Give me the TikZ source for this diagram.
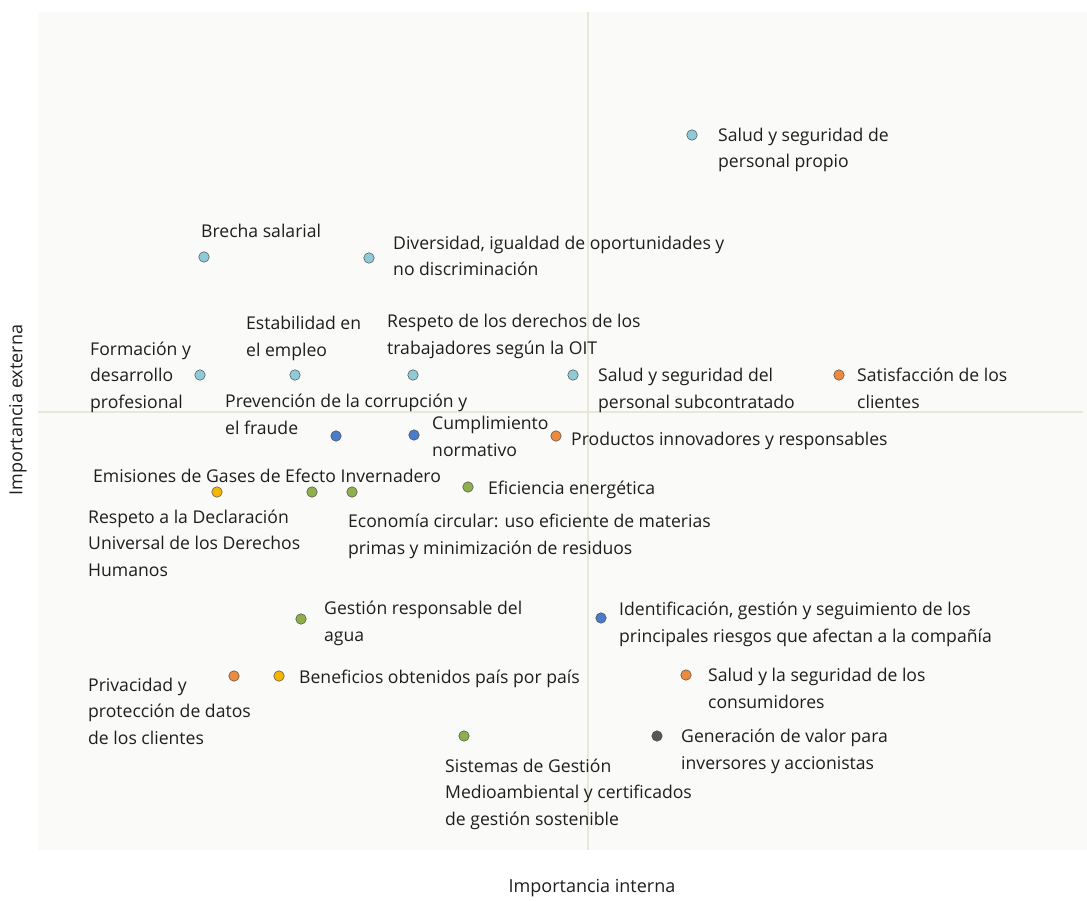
\documentclass[tikz,border=0pt]{standalone}
\usepackage{fontspec}
\setmainfont{Open Sans}
\definecolor{bgc}{HTML}{FAFAF8}
\definecolor{axc}{HTML}{EAE6D8}
\definecolor{lblue}{HTML}{8FCAD9}
\definecolor{dblue}{HTML}{4A7CC9}
\definecolor{orng}{HTML}{EE8A3E}
\definecolor{yllw}{HTML}{F4B400}
\definecolor{grn}{HTML}{8DB04C}
\definecolor{dgray}{HTML}{575757}
\definecolor{txt}{HTML}{1E1E1E}
\tikzset{
  dot/.style={circle,draw=black!70,line width=0.5pt,inner sep=0pt,minimum size=10.5pt,fill=#1},
  lbl/.style={anchor=base west,align=left,text=txt,inner sep=0pt,font=\fontsize{17.6}{26.2}\selectfont},
  axlbl/.style={text=txt,inner sep=0pt,font=\fontsize{18}{22}\selectfont},
  axline/.style={draw=axc,line width=2pt}
}
\begin{document}
\begin{tikzpicture}[x=1pt,y=-1pt]
\useasboundingbox (0,0) rectangle (1087,901);
\fill[bgc] (38,12) rectangle (1087,850);
\coordinate (vt) at (588,12);
\coordinate (vb) at (588,850);
\coordinate (hl) at (38,412);
\coordinate (hr) at (1083,412);
\draw[axline] (vt) -- (vb);
\draw[axline] (hl) -- (hr);
% dots
\node[dot=lblue] (d1) at (692,135) {};
\node[dot=lblue] (d2) at (204,257) {};
\node[dot=lblue] (d3) at (369,258) {};
\node[dot=lblue] (d4) at (200,375) {};
\node[dot=lblue] (d5) at (295,375) {};
\node[dot=lblue] (d6) at (413,375) {};
\node[dot=lblue] (d7) at (573,375) {};
\node[dot=orng] (d8) at (839,375) {};
\node[dot=dblue] (d9) at (336,436) {};
\node[dot=dblue] (d10) at (414,435) {};
\node[dot=grn] (d13) at (312,492) {};
\node[dot=grn] (d14) at (352,492) {};
\node[dot=yllw] (d12) at (217,492) {};
\node[dot=grn] (d15) at (468,487) {};
\node[dot=grn] (d16) at (301,619) {};
\node[dot=dblue] (d17) at (601,618) {};
\node[dot=orng] (d18) at (234,676) {};
\node[dot=yllw] (d19) at (279,676) {};
\node[dot=orng] (d20) at (686,675) {};
\node[dot=grn] (d21) at (464,736) {};
\node[dot=dgray] (d22) at (657,736) {};
% labels (anchor at baseline of last line)
\node[lbl] (t1) at (718,168) {Salud y seguridad de\\personal propio};
\node[lbl] (t2) at (201,238) {Brecha salarial};
\node[lbl] (t3) at (393,276) {Diversidad, igualdad de oportunidades y\\no discriminación};
\node[lbl] (t4) at (90,408) {Formación y\\desarrollo\\profesional};
\node[lbl] (t5) at (246,356) {Estabilidad en\\el empleo};
\node[lbl] (t6) at (387,354) {Respeto de los derechos de los\\trabajadores según la OIT};
\node[lbl] (t7) at (598,408) {Salud y seguridad del\\personal subcontratado};
\node[lbl] (t8) at (857,408) {Satisfacción de los\\clientes};
\node[lbl] (t9) at (225,434) {Prevención de la corrupción y\\el fraude};
\node[lbl] (t10) at (432,456) {Cumplimiento\\normativo};
\node[dot=orng] (d11) at (556,436) {};
\node[lbl] (t11) at (571,445) {Productos innovadores y responsables};
\node[lbl] (t12) at (93,482) {Emisiones de Gases de Efecto Invernadero};
\node[lbl] (t13) at (488,494) {Eficiencia energética};
\node[lbl] (t14) at (88,576) {Respeto a la Declaración\\Universal de los Derechos\\Humanos};
\node[lbl] (t15) at (348,554) {Economía circular: uso eficiente de materias\\primas y minimización de residuos};
\node[lbl] (t16) at (324,641) {Gestión responsable del\\agua};
\node[lbl] (t17) at (619,642) {Identificación, gestión y seguimiento de los\\principales riesgos que afectan a la compañía};
\node[lbl] (t18) at (88,744) {Privacidad y\\protección de datos\\de los clientes};
\node[lbl] (t19) at (299,683) {Beneficios obtenidos país por país};
\node[lbl] (t20) at (708,708) {Salud y la seguridad de los\\consumidores};
\node[lbl] (t21) at (445,825) {Sistemas de Gestión\\Medioambiental y certificados\\de gestión sostenible};
\node[lbl] (t22) at (681,769) {Generación de valor para\\inversores y accionistas};
\node[axlbl] (ax) at (592,888) {Importancia interna};
\node[axlbl,rotate=90] (ay) at (18,410) {Importancia externa};
\end{tikzpicture}
\end{document}
